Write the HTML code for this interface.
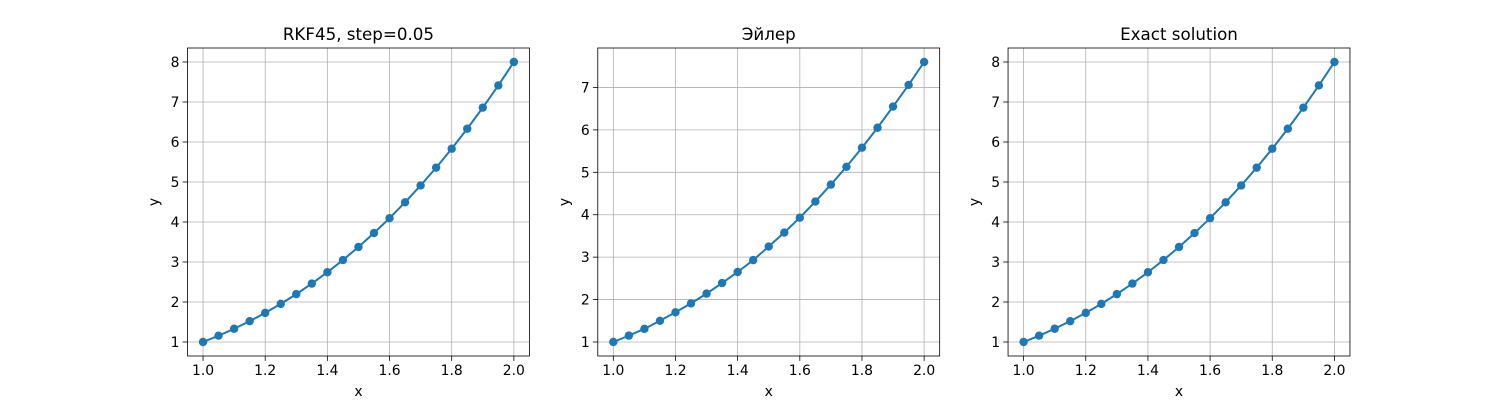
<!DOCTYPE html>
<html><head><meta charset="utf-8"><style>
body{margin:0;background:#fff;width:1500px;height:400px;overflow:hidden}
svg text{font-family:"DejaVu Sans","Liberation Sans",sans-serif;fill:#000}
</style></head><body>
<svg id="fig" width="1500" height="400" xmlns="http://www.w3.org/2000/svg"></svg>
<script>
const xs=[1.0,1.05,1.1,1.15,1.2,1.25,1.3,1.35,1.4,1.45,1.5,1.55,1.6,1.65,1.7,1.75,1.8,1.85,1.9,1.95,2.0];
const rkfY=[1,1.158,1.331,1.521,1.728,1.953,2.197,2.460,2.744,3.049,3.375,3.724,4.096,4.492,4.913,5.359,5.832,6.332,6.859,7.415,8.0];
const eulerY=[1,1.15,1.31,1.5,1.7,1.91,2.14,2.39,2.65,2.93,3.25,3.58,3.93,4.31,4.71,5.13,5.58,6.05,6.55,7.06,7.6];
const exactY=[1,1.158,1.331,1.521,1.728,1.953,2.197,2.460,2.744,3.049,3.375,3.724,4.096,4.492,4.913,5.359,5.832,6.332,6.859,7.415,8.0];
const titles=["RKF45, step=0.05","Эйлер","Exact solution"];
const xTicks=[1.0,1.2,1.4,1.6,1.8,2.0];
const yTicksA=[1,2,3,4,5,6,7,8];
const yTicksB=[1,2,3,4,5,6,7];
(function(){
const NS="http://www.w3.org/2000/svg";
const svg=document.getElementById('fig');
function mk(t,a,p){const e=document.createElementNS(NS,t);for(const k in a)e.setAttribute(k,a[k]);(p||svg).appendChild(e);return e;}
const series=[rkfY,eulerY,exactY];
const yt=[yTicksA,yTicksB,yTicksA];
const names=["rkf45","euler","exact"];
const W=341.9,axTop=48,bot=356;
for(let i=0;i<3;i++){
  const L=187.5+i*(W*1.2),R=L+W;
  const ys=series[i];
  const g=mk('g',{});
  
  
  const xmin=Math.min(...xs),xmax=Math.max(...xs),xm=(xmax-xmin)*0.05;
  const ymin=Math.min(...ys),ymax=Math.max(...ys),ym=(ymax-ymin)*0.05;
  const sx=v=>L+(v-(xmin-xm))/((xmax+xm)-(xmin-xm))*W;
  const sy=v=>bot-(v-(ymin-ym))/((ymax+ym)-(ymin-ym))*(bot-axTop);
  xTicks.forEach(t=>{const x=sx(t);
    const gl=mk('line',{x1:x,x2:x,y1:axTop,y2:bot,stroke:'#b0b0b0','stroke-width':0.8},g);
    
    
    mk('line',{x1:x,x2:x,y1:bot,y2:bot+4.9,stroke:'#000','stroke-width':0.8},g);
    const tx=mk('text',{x:x,y:bot+19,'text-anchor':'middle','font-size':'13.9px'},g);tx.textContent=t.toFixed(1);
    
    });
  yt[i].forEach(t=>{const y=sy(t);
    const gl=mk('line',{x1:L,x2:R,y1:y,y2:y,stroke:'#b0b0b0','stroke-width':0.8},g);
    
    
    mk('line',{x1:L-4.9,x2:L,y1:y,y2:y,stroke:'#000','stroke-width':0.8},g);
    const tx=mk('text',{x:L-8,y:y+5,'text-anchor':'end','font-size':'13.9px'},g);tx.textContent=t;
    
    });
  const pts=xs.map((x,j)=>sx(x)+','+sy(ys[j])).join(' ');
  const pl=mk('polyline',{points:pts,fill:'none',stroke:'#1f77b4','stroke-width':2},g);
  
  
  xs.forEach((x,j)=>{const c=mk('circle',{cx:sx(x),cy:sy(ys[j]),r:4.2,fill:'#1f77b4'},g);
    
    });
  const fr=mk('rect',{x:L,y:axTop,width:W,height:bot-axTop,fill:'none',stroke:'#000','stroke-width':0.8},g);
  
  
  const ti=mk('text',{x:(L+R)/2,y:axTop-8,'text-anchor':'middle','font-size':'16.7px'},g);ti.textContent=titles[i];
  
  
  const xl=mk('text',{x:(L+R)/2,y:bot+40,'text-anchor':'middle','font-size':'13.9px'},g);xl.textContent='x';
  
  
  const yl=mk('text',{x:0,y:0,'text-anchor':'middle','font-size':'13.9px',transform:`translate(${L-29},${(axTop+bot)/2}) rotate(-90)`},g);yl.textContent='y';
  
  
}
})();
</script>
</body></html>
